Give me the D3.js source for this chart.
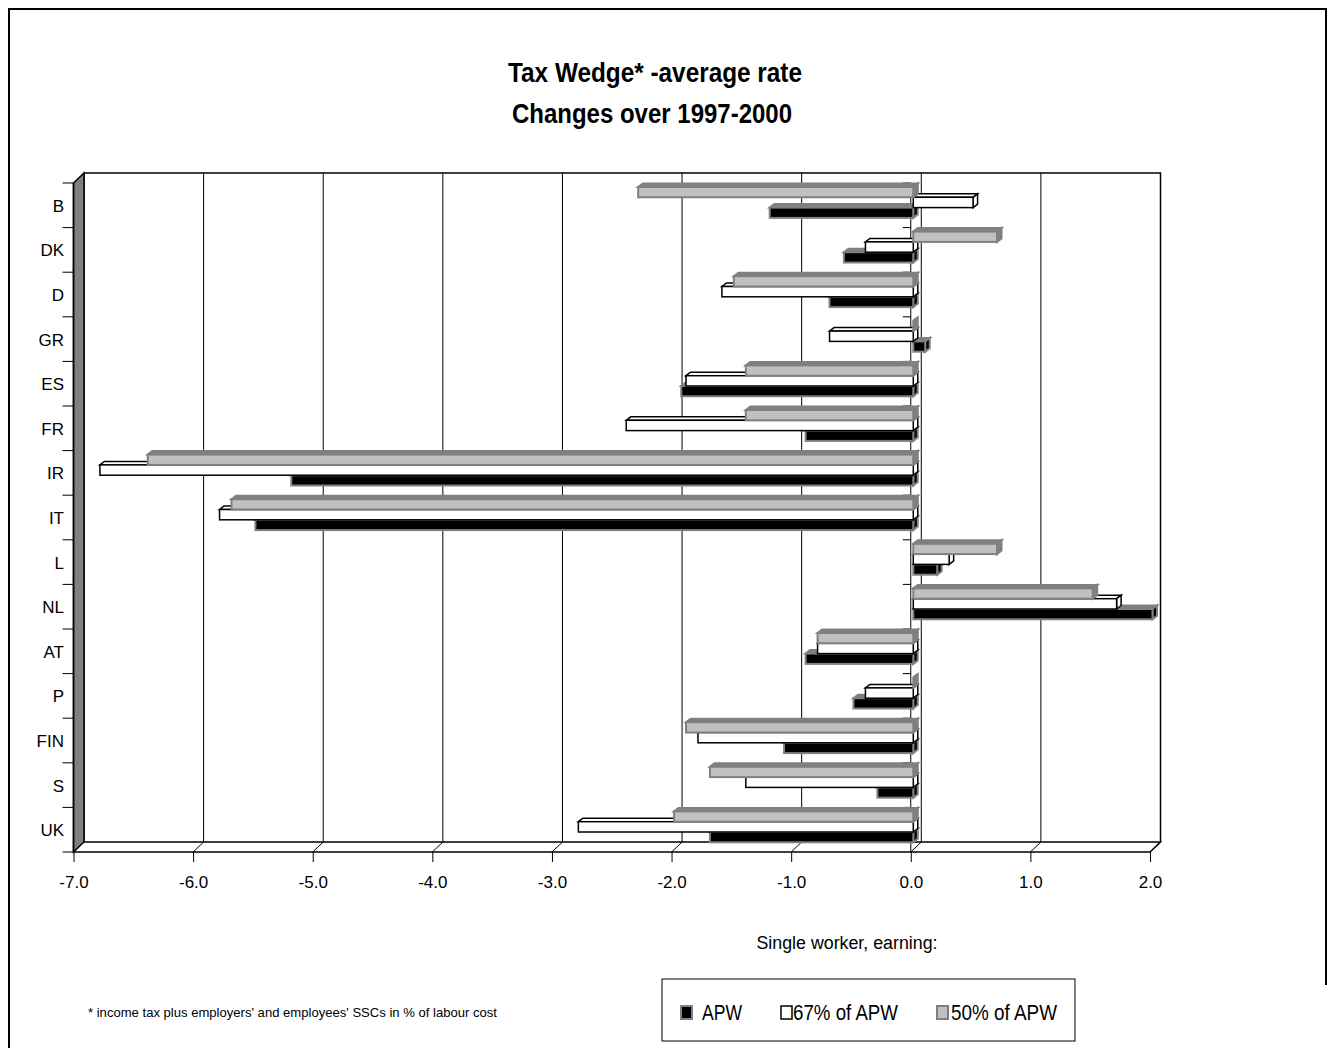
<!DOCTYPE html>
<html>
<head>
<meta charset="utf-8">
<script src="https://cdn.jsdelivr.net/npm/d3@7/dist/d3.min.js"></script>
<style>
  html, body { margin: 0; padding: 0; background: #fff; }
  svg { display: block; font-family: "Liberation Sans", Arial, sans-serif; }
</style>
</head>
<body>
<svg id="chart" width="1332" height="1048"></svg>
<script>
// Change in the average tax wedge, 1997-2000 (percentage points)
const categories = ["B", "DK", "D", "GR", "ES", "FR", "IR", "IT", "L", "NL", "AT", "P", "FIN", "S", "UK"];
const apw   = [-1.2, -0.58, -0.7, 0.1, -1.94, -0.9, -5.2, -5.5, 0.2, 2.0, -0.9, -0.5, -1.08, -0.3, -1.7];
const apw67 = [0.5, -0.4, -1.6, -0.7, -1.9, -2.4, -6.8, -5.8, 0.3, 1.7, -0.8, -0.4, -1.8, -1.4, -2.8];
const apw50 = [-2.3, 0.7, -1.5, 0.0, -1.4, -1.4, -6.4, -5.7, 0.7, 1.5, -0.8, 0.0, -1.9, -1.7, -2.0];
const tickValues = [-7, -6, -5, -4, -3, -2, -1, 0, 1, 2];
const tickLabels = ["-7.0", "-6.0", "-5.0", "-4.0", "-3.0", "-2.0", "-1.0", "0.0", "1.0", "2.0"];
const seriesNames = ["APW", "67% of APW", "50% of APW"];

const svg = d3.select("#chart");

// 3-D box: front plane plus an offset back wall
const x = d3.scaleLinear().domain([-7, 2]).range([73.5, 1150]);
const y = d3.scaleBand().domain(categories).range([183, 852]).paddingInner(0);
const wallDX = 10.5, wallDY = -10;
const floorY = 852, topY = 173;

// outer frame
svg.append("path")
  .attr("d", "M9,1048 V9 H1326 V985")
  .attr("fill", "none").attr("stroke", "#000").attr("stroke-width", 2);

// title
const title = svg.append("g").attr("font-weight", "bold").attr("font-size", 27).attr("text-anchor", "middle");
title.append("text").attr("x", 655).attr("y", 82)
  .attr("textLength", 294).attr("lengthAdjust", "spacingAndGlyphs")
  .text("Tax Wedge* -average rate");
title.append("text").attr("x", 652).attr("y", 123)
  .attr("textLength", 280).attr("lengthAdjust", "spacingAndGlyphs")
  .text("Changes over 1997-2000");

// back wall gridlines
const xb = v => x(v) + wallDX;
svg.append("g").selectAll("line").data(tickValues.slice(1, -1)).join("line")
  .attr("x1", d => xb(d)).attr("x2", d => xb(d))
  .attr("y1", topY).attr("y2", floorY + wallDY)
  .attr("stroke", "#000").attr("stroke-width", 1);

// back wall outline
svg.append("path")
  .attr("d", `M${xb(-7)},${floorY + wallDY} V${topY} H${xb(2)} V${floorY + wallDY}`)
  .attr("fill", "none").attr("stroke", "#000").attr("stroke-width", 1.5);

// side wall
svg.append("path")
  .attr("d", `M${x(-7)},${y.range()[0]} L${xb(-7)},${topY} L${xb(-7)},${floorY + wallDY} L${x(-7)},${floorY} Z`)
  .attr("fill", "#808080").attr("stroke", "#000").attr("stroke-width", 1.5);

// floor
const floor = svg.append("g").attr("stroke", "#000").attr("fill", "none");
floor.append("path")
  .attr("d", `M${x(-7)},${floorY} H${x(2)} L${xb(2)},${floorY + wallDY} H${xb(-7)}`)
  .attr("stroke-width", 1.5);
floor.selectAll("line.diag").data(tickValues.slice(1)).join("line")
  .attr("class", "diag")
  .attr("x1", d => x(d)).attr("y1", floorY)
  .attr("x2", d => xb(d)).attr("y2", floorY + wallDY)
  .attr("stroke-width", 1);

// value axis ticks and labels
const bottomAxis = d3.axisBottom(x).tickValues(tickValues)
  .tickFormat((d, i) => tickLabels[i]).tickSize(10).tickPadding(14);
const axG = svg.append("g").attr("transform", `translate(0,${floorY})`).call(bottomAxis);
axG.select(".domain").remove();
axG.selectAll(".tick line").attr("stroke", "#000").attr("stroke-width", 1);
axG.selectAll(".tick text")
  .attr("font-family", "Liberation Sans, Arial, sans-serif")
  .attr("font-size", 17).attr("fill", "#000");

// category axis (left wall edge) with labels
const bounds = categories.map(c => y(c)).concat([y.range()[1]]);
const catG = svg.append("g");
catG.append("line").attr("x1", x(-7)).attr("x2", x(-7))
  .attr("y1", y.range()[0]).attr("y2", floorY).attr("stroke", "#000").attr("stroke-width", 1.5);
catG.selectAll("line.tk").data(bounds).join("line").attr("class", "tk")
  .attr("x1", x(-7) - 11).attr("x2", x(-7)).attr("y1", d => d).attr("y2", d => d)
  .attr("stroke", "#000").attr("stroke-width", 1);
catG.selectAll("text").data(categories).join("text")
  .attr("x", 64).attr("y", d => y(d) + y.bandwidth() / 2 + 6.5)
  .attr("text-anchor", "end").attr("font-size", 17).text(d => d);

// zero line with category ticks
const zeroG = svg.append("g").attr("stroke", "#000");
zeroG.append("line").attr("x1", x(0)).attr("x2", x(0))
  .attr("y1", y.range()[0]).attr("y2", floorY).attr("stroke-width", 1);
zeroG.selectAll("line.tk").data(bounds.slice(0, -1)).join("line").attr("class", "tk")
  .attr("x1", x(0) - 8).attr("x2", x(0)).attr("y1", d => d).attr("y2", d => d)
  .attr("stroke-width", 1);

// bars: three per category, drawn as small boxes with depth
const series = [
  { name: seriesNames[0], values: apw,   slot: 2, front: "#000",    top: "#808080", side: "#000",    stroke: "#808080", sw: 2 },
  { name: seriesNames[1], values: apw67, slot: 1, front: "#fff",    top: "#fff",    side: "#fff",    stroke: "#000",    sw: 1.5 },
  { name: seriesNames[2], values: apw50, slot: 0, front: "#c0c0c0", top: "#808080", side: "#808080", stroke: "#808080", sw: 2 }
];
const barOffset = 2.5, barTop = 4, barH = 10.3, dX = 4.5, dY = -3.5;
const barsG = svg.append("g");
categories.forEach((c, i) => {
  // lower bars first so the upper bar covers their top faces
  series.forEach(s => {
    const v = s.values[i];
    const x0 = x(0) + barOffset, x1 = x(v) + barOffset;
    const xL = Math.min(x0, x1), xR = Math.max(x0, x1);
    const yT = y(c) + barTop + s.slot * barH, yB = yT + barH;
    const g = barsG.append("g").attr("stroke", s.stroke).attr("stroke-width", s.sw)
      .attr("stroke-linejoin", "miter");
    g.append("path")
      .attr("d", `M${xL},${yT} L${xL + dX},${yT + dY} L${xR + dX},${yT + dY} L${xR},${yT} Z`)
      .attr("fill", s.top);
    g.append("path")
      .attr("d", `M${xR},${yT} L${xR + dX},${yT + dY} L${xR + dX},${yB + dY} L${xR},${yB} Z`)
      .attr("fill", s.side);
    g.append("rect").attr("x", xL).attr("y", yT).attr("width", xR - xL).attr("height", barH)
      .attr("fill", s.front);
  });
});

// legend
svg.append("text").attr("x", 847).attr("y", 949).attr("text-anchor", "middle")
  .attr("font-size", 18).attr("textLength", 181).attr("lengthAdjust", "spacingAndGlyphs")
  .text("Single worker, earning:");
svg.append("rect").attr("x", 662).attr("y", 979).attr("width", 413).attr("height", 62)
  .attr("fill", "#fff").attr("stroke", "#000").attr("stroke-width", 1);
const legendItems = [
  { key: 681, text: 702, w: 40,  fill: "#000",    stroke: "#808080", sw: 2 },
  { key: 781, text: 793, w: 105, fill: "#fff",    stroke: "#000",    sw: 1.5 },
  { key: 937, text: 951, w: 106, fill: "#c0c0c0", stroke: "#808080", sw: 2 }
];
legendItems.forEach((d, i) => {
  svg.append("rect").attr("x", d.key).attr("y", 1006).attr("width", 11).attr("height", 13)
    .attr("fill", d.fill).attr("stroke", d.stroke).attr("stroke-width", d.sw);
  svg.append("text").attr("x", d.text).attr("y", 1020).attr("font-size", 22)
    .attr("textLength", d.w).attr("lengthAdjust", "spacingAndGlyphs")
    .text(seriesNames[i]);
});

// footnote
svg.append("text").attr("x", 88).attr("y", 1017).attr("font-size", 13)
  .attr("textLength", 409).attr("lengthAdjust", "spacingAndGlyphs")
  .text("* income tax plus employers' and employees' SSCs in % of labour cost");
</script>
</body>
</html>
